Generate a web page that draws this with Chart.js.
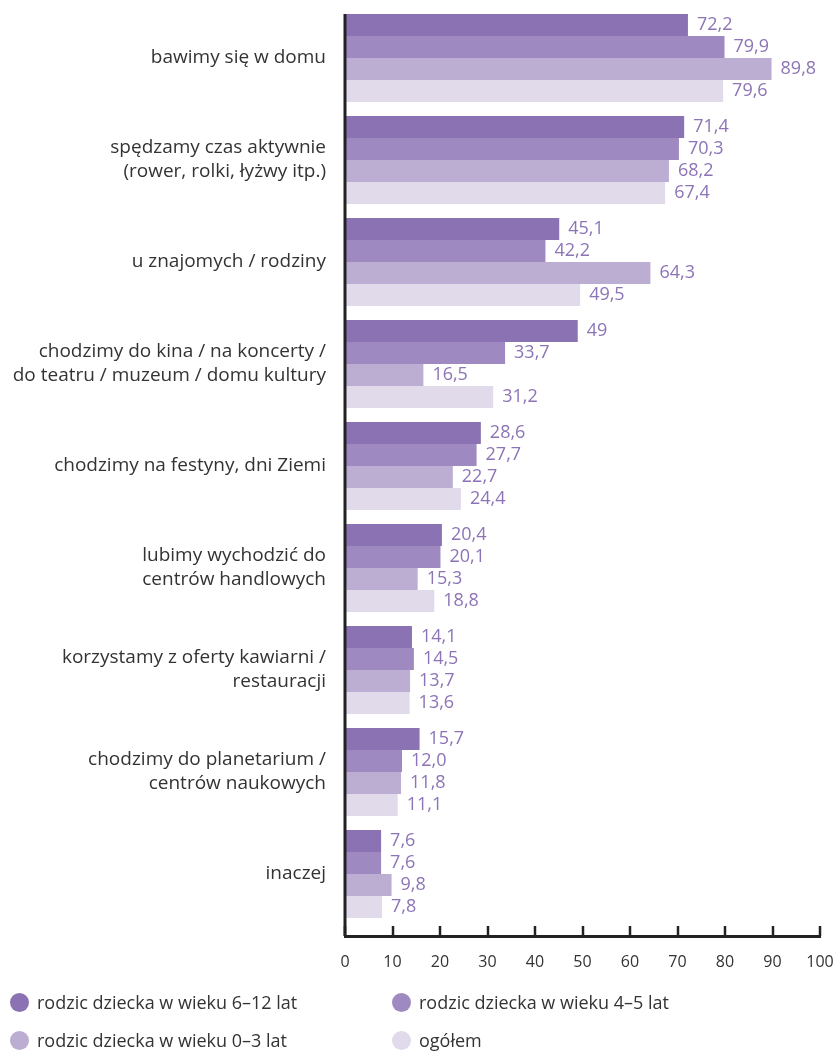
<!DOCTYPE html>
<html>
<head>
<meta charset="utf-8">
<script src="https://cdn.jsdelivr.net/npm/chart.js@4"></script>
<style>
  body { margin: 0; background: #fff; font-family: "Open Sans", sans-serif; }
  #wrap { position: relative; width: 836px; height: 1052px; }
  #legend { position: absolute; left: 10px; top: 983px; display: grid; grid-template-columns: 382px auto; }
  .item { display: flex; align-items: center; height: 38px; font-size: 18px; color: #333; }
  .dot { width: 19px; height: 19px; border-radius: 50%; margin-right: 8px; }
</style>
</head>
<body>
<div id="wrap">
  <canvas id="chart" width="836" height="985"></canvas>
  <div id="legend"></div>
</div>
<script>
// categories (top to bottom)
const categories = [
  'bawimy się w domu',
  ['spędzamy czas aktywnie', '(rower, rolki, łyżwy itp.)'],
  'u znajomych / rodziny',
  ['chodzimy do kina / na koncerty /', 'do teatru / muzeum / domu kultury'],
  'chodzimy na festyny, dni Ziemi',
  ['lubimy wychodzić do', 'centrów handlowych'],
  ['korzystamy z oferty kawiarni /', 'restauracji'],
  ['chodzimy do planetarium /', 'centrów naukowych'],
  'inaczej'
];

// values as printed on the chart
const age6to12 = ['72,2', '71,4', '45,1', '49', '28,6', '20,4', '14,1', '15,7', '7,6'];
const age4to5 = ['79,9', '70,3', '42,2', '33,7', '27,7', '20,1', '14,5', '12,0', '7,6'];
const age0to3 = ['89,8', '68,2', '64,3', '16,5', '22,7', '15,3', '13,7', '11,8', '9,8'];
const overall = ['79,6', '67,4', '49,5', '31,2', '24,4', '18,8', '13,6', '11,1', '7,8'];

const seriesNames = ['rodzic dziecka w wieku 6–12 lat', 'rodzic dziecka w wieku 4–5 lat', 'rodzic dziecka w wieku 0–3 lat', 'ogółem'];
const seriesColors = ['#8b72b2', '#9e89c0', '#bcadd3', '#e0daeb'];
const xTicks = [0, 10, 20, 30, 40, 50, 60, 70, 80, 90, 100];

const FONT = '"Open Sans", sans-serif';
const allSeries = [age6to12, age4to5, age0to3, overall];

const datasets = allSeries.map((vals, s) => ({
  label: seriesNames[s],
  data: vals.map((v, i) => ({ x: parseFloat(v.replace(',', '.')), y: i })),
  texts: vals,
  backgroundColor: seriesColors[s],
  borderWidth: 0,
  categoryPercentage: 88 / 102,
  barPercentage: 1
}));

// value labels at bar ends
const valueLabels = {
  id: 'valueLabels',
  afterDatasetsDraw(chart) {
    const ctx = chart.ctx;
    ctx.save();
    ctx.font = '18px ' + FONT;
    ctx.fillStyle = '#8c74b6';
    ctx.textBaseline = 'middle';
    ctx.textAlign = 'left';
    chart.data.datasets.forEach((ds, di) => {
      chart.getDatasetMeta(di).data.forEach((bar, i) => {
        ctx.fillText(ds.texts[i], bar.x + 9, bar.y);
      });
    });
    ctx.restore();
  }
};

// axis lines on top of the bars, tick marks pointing up from the x axis
const axisLines = {
  id: 'axisLines',
  afterDatasetsDraw(chart) {
    const ctx = chart.ctx;
    const x = chart.scales.x;
    const { left, top, bottom } = chart.chartArea;
    ctx.save();
    ctx.strokeStyle = '#222';
    ctx.lineWidth = 3;
    ctx.beginPath();
    ctx.moveTo(left, top);
    ctx.lineTo(left, bottom);
    ctx.stroke();
    ctx.lineWidth = 2.5;
    xTicks.forEach(t => {
      const px = Math.round(x.getPixelForValue(t));
      ctx.beginPath();
      ctx.moveTo(px, bottom - 10);
      ctx.lineTo(px, bottom);
      ctx.stroke();
    });
    ctx.restore();
  }
};

new Chart(document.getElementById('chart'), {
  type: 'bar',
  data: { datasets },
  options: {
    indexAxis: 'y',
    responsive: false,
    animation: false,
    layout: { padding: { top: 14, right: 16, left: 0, bottom: 0 } },
    plugins: { legend: { display: false }, tooltip: { enabled: false } },
    scales: {
      x: {
        type: 'linear',
        min: 0,
        max: 100,
        grid: { display: false },
        border: { display: true, color: '#222', width: 3 },
        afterBuildTicks: s => { s.ticks = xTicks.map(v => ({ value: v })); },
        afterFit: s => { s.height = 49; s.paddingLeft = 0; s.paddingRight = 0; },
        ticks: { color: '#333', font: { family: FONT, size: 16 }, padding: 9, maxRotation: 0 }
      },
      y: {
        type: 'linear',
        reverse: true,
        offset: false,
        min: -0.4314,
        max: 8.6078,
        grid: { display: false, offset: false },
        border: { display: false },
        afterBuildTicks: s => { s.ticks = categories.map((_, i) => ({ value: i })); },
        afterFit: s => { s.width = 345; s.paddingTop = 0; s.paddingBottom = 0; },
        ticks: {
          color: '#333',
          font: { family: FONT, size: 19, lineHeight: 1.26 },
          padding: 11,
          autoSkip: false,
          callback: v => categories[v]
        }
      }
    }
  },
  plugins: [valueLabels, axisLines]
});

// legend
const legend = document.getElementById('legend');
seriesNames.forEach((name, i) => {
  const item = document.createElement('div');
  item.className = 'item';
  item.innerHTML = '<span class="dot" style="background:' + seriesColors[i] + '"></span>' + name;
  legend.appendChild(item);
});
</script>
</body>
</html>
